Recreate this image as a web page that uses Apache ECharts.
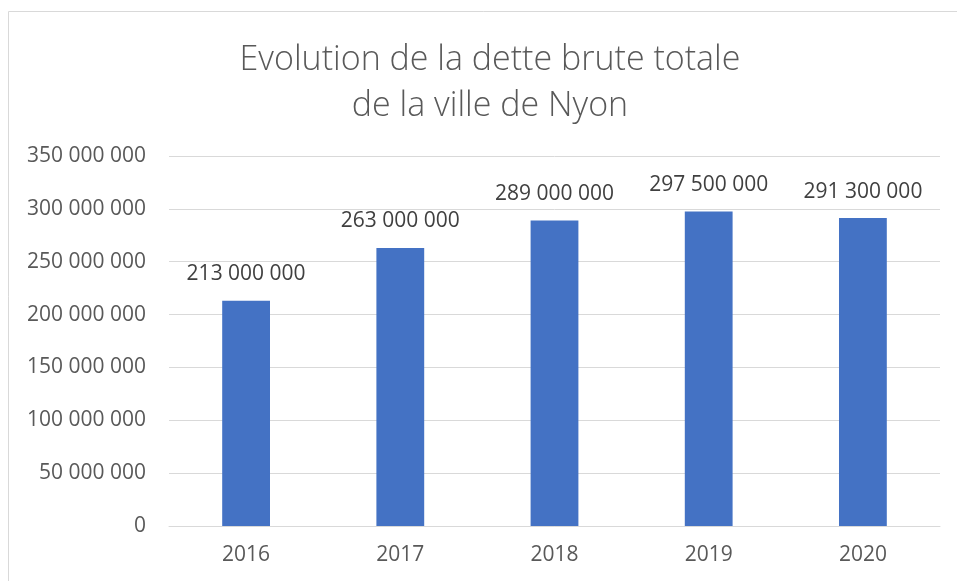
<!DOCTYPE html>
<html><head><meta charset="utf-8">
<script src="https://cdn.jsdelivr.net/npm/echarts@6/dist/echarts.min.js"></script>
<style>html,body{margin:0;padding:0;background:#fff}#c{width:957px;height:581px}</style>
</head><body><div id="c"></div>
<script>
const titleLines = ["Evolution de la dette brute totale", "de la ville de Nyon"];
const years = ["2016", "2017", "2018", "2019", "2020"];
const debt = [213000000, 263000000, 289000000, 297500000, 291300000];
const yTicks = { min: 0, max: 350000000, interval: 50000000 };

function fmt(v) {
  return String(Math.round(v)).replace(/\B(?=(\d{3})+(?!\d))/g, " ");
}
const font = "'Open Sans', 'Noto Sans', sans-serif";
const chart = echarts.init(document.getElementById('c'), null, { renderer: 'canvas' });
chart.setOption({
  animation: false,
  title: {
    text: titleLines.join("\n"),
    left: 485, top: 32,
    textAlign: 'center',
    textStyle: { fontFamily: font, fontSize: 34, fontWeight: 300, color: '#595959', lineHeight: 46 }
  },
  graphic: [{
    type: 'rect', shape: { x: 8.5, y: 11.5, width: 1000, height: 620 },
    style: { fill: 'none', stroke: '#d9d9d9', lineWidth: 1 }, silent: true, z: -1
  }],
  grid: { left: 169, right: 17, top: 156, bottom: 55, containLabel: false },
  xAxis: {
    type: 'category', data: years,
    axisLine: { lineStyle: { color: '#d9d9d9', width: 1 } },
    axisTick: { show: false },
    axisLabel: { fontFamily: font, fontSize: 21, color: '#595959', margin: 19 }
  },
  yAxis: {
    type: 'value', min: yTicks.min, max: yTicks.max, interval: yTicks.interval,
    axisLine: { show: false }, axisTick: { show: false },
    splitLine: { lineStyle: { color: '#d9d9d9', width: 1 } },
    axisLabel: { fontFamily: font, fontSize: 21, color: '#595959', margin: 23, formatter: fmt }
  },
  series: [{
    type: 'bar', data: debt, barWidth: '31%',
    itemStyle: { color: '#4472C4' },
    label: { show: true, position: 'top', distance: 16, fontFamily: font, fontSize: 21, color: '#404040', formatter: p => fmt(p.value) }
  }]
});
</script></body></html>
